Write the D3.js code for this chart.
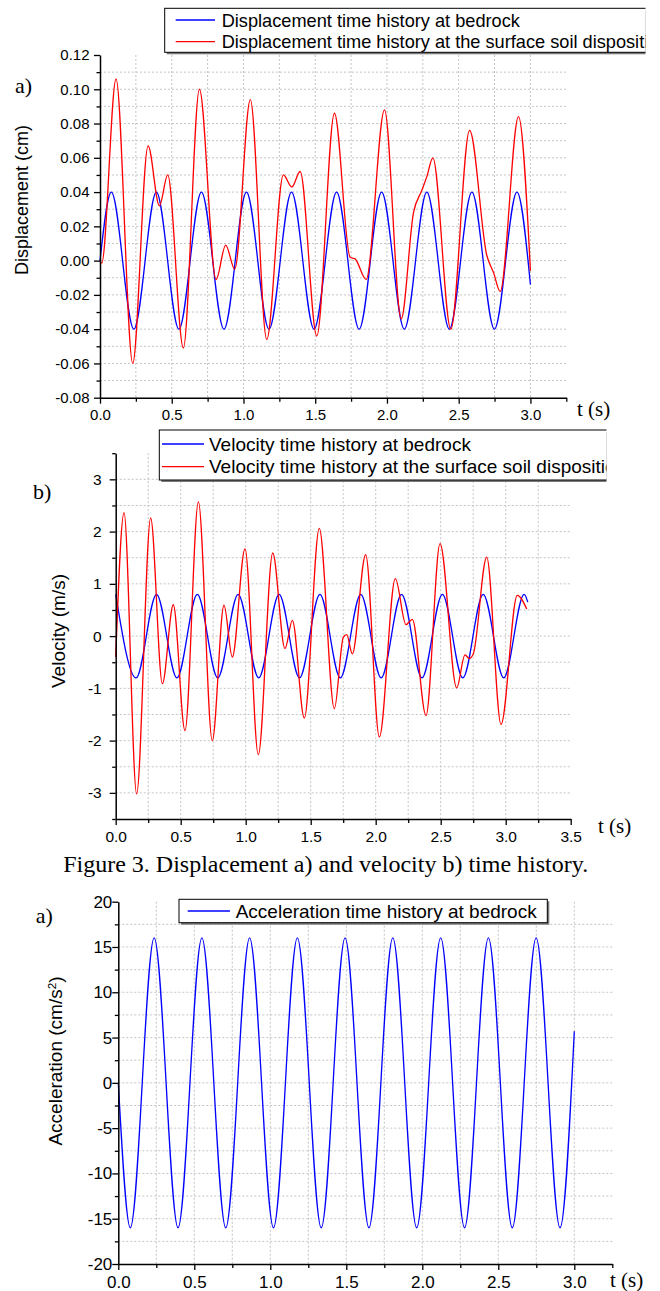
<!DOCTYPE html>
<html>
<head>
<meta charset="utf-8">
<script src="https://cdn.jsdelivr.net/npm/d3@7"></script>
<style>
  body { margin: 0; background: #fff; }
  svg text { font-family: Arial, "Liberation Sans", sans-serif; fill: #000; }
  svg text.serif { font-family: "Times New Roman", "Liberation Serif", serif; }
</style>
</head>
<body>
<div id="chart"></div>
<script>
// ---- data (t in s) ----
const dispBedrock = [
  [0, 0], [0.079, 0.04], [0.236, -0.04], [0.393, 0.04], [0.550, -0.04], [0.707, 0.04],
  [0.864, -0.04], [1.021, 0.04], [1.178, -0.04], [1.335, 0.04], [1.492, -0.04],
  [1.649, 0.04], [1.806, -0.04], [1.963, 0.04], [2.121, -0.04], [2.278, 0.04],
  [2.435, -0.04], [2.592, 0.04], [2.749, -0.04], [2.906, 0.04], [3.0, -0.014]
];
const dispSurface = [
  [0, 0], [0.012, -0.0015], [0.112, 0.106], [0.228, -0.060], [0.335, 0.067], [0.414, 0.032],
  [0.472, 0.050], [0.581, -0.051], [0.693, 0.100], [0.809, -0.011], [0.876, 0.009],
  [0.939, -0.005], [1.048, 0.094], [1.162, -0.046], [1.278, 0.050], [1.337, 0.043],
  [1.395, 0.052], [1.511, -0.044], [1.634, 0.086], [1.743, 0.002], [1.778, 0.001],
  [1.855, -0.011], [1.983, 0.088], [2.099, -0.034], [2.185, 0.028], [2.243, 0.041],
  [2.278, 0.049], [2.320, 0.060], [2.445, -0.040], [2.576, 0.076], [2.696, 0.003],
  [2.743, -0.007], [2.789, -0.018], [2.917, 0.084], [3.0, -0.006]
];
const velBedrock = [
  [0, 0.8], [0.157, -0.8], [0.314, 0.8], [0.471, -0.8], [0.628, 0.8], [0.785, -0.8],
  [0.942, 0.8], [1.100, -0.8], [1.257, 0.8], [1.414, -0.8], [1.571, 0.8], [1.728, -0.8],
  [1.885, 0.8], [2.042, -0.8], [2.199, 0.8], [2.356, -0.8], [2.513, 0.8], [2.670, -0.8],
  [2.827, 0.8], [2.985, -0.8], [3.142, 0.8], [3.17, 0.65]
];
const velSurface = [
  [0, -0.40], [0.064, 2.36], [0.161, -3.02], [0.269, 2.26], [0.359, -0.91], [0.443, 0.60],
  [0.533, -1.81], [0.636, 2.57], [0.743, -2.00], [0.833, 0.59], [0.897, -0.40],
  [0.995, 1.67], [1.097, -2.27], [1.208, 1.59], [1.302, -0.24], [1.359, 0.30],
  [1.451, -1.57], [1.566, 2.06], [1.682, -1.39], [1.751, -0.02], [1.777, 0.03],
  [1.820, -0.34], [1.923, 1.56], [2.028, -1.93], [2.151, 1.10], [2.233, 0.22],
  [2.282, 0.32], [2.387, -1.52], [2.495, 1.77], [2.623, -0.99], [2.687, -0.36],
  [2.720, -0.43], [2.751, -0.34], [2.854, 1.51], [2.964, -1.69], [3.089, 0.78], [3.162, 0.52]
];
const accBedrock = [
  [0, 0], [0.079, -16], [0.236, 16], [0.393, -16], [0.550, 16], [0.707, -16], [0.864, 16],
  [1.021, -16], [1.178, 16], [1.335, -16], [1.492, 16], [1.649, -16], [1.806, 16],
  [1.963, -16], [2.121, 16], [2.278, -16], [2.435, 16], [2.592, -16], [2.749, 16],
  [2.906, -16], [3.0, 5.7]
];

const xTicksA = [0, 0.5, 1.0, 1.5, 2.0, 2.5, 3.0];
const xTicksB = [0, 0.5, 1.0, 1.5, 2.0, 2.5, 3.0, 3.5];
const yTicksDisp = [-0.08, -0.06, -0.04, -0.02, 0, 0.02, 0.04, 0.06, 0.08, 0.10, 0.12];
const yTicksVel = [-3, -2, -1, 0, 1, 2, 3];
const yTicksAcc = [-20, -15, -10, -5, 0, 5, 10, 15, 20];

const legendDisp = ["Displacement time history at bedrock", "Displacement time history at the surface soil disposition"];
const legendVel = ["Velocity time history at bedrock", "Velocity time history at the surface soil disposition"];
const legendAcc = ["Acceleration time history at bedrock"];
const caption = "Figure 3. Displacement a) and velocity b) time history.";

const BLUE = "#0000ff", RED = "#ff0000";

const svg = d3.select("#chart").append("svg")
  .attr("width", 660).attr("height", 1291);

const hy = f => v => f(v).replace("\u2212", "-");

// minor ticks halfway between majors, plus one past the last if inside domain
function withMinors(major, domain) {
  const step = major[1] - major[0];
  const out = [];
  for (let i = 0; i < major.length; i++) {
    const m = +(major[i] - step / 2).toFixed(6);
    if (m >= domain[0] - 1e-9) out.push(m);
  }
  const last = +(major[major.length - 1] + step / 2).toFixed(6);
  if (last <= domain[1] + 1e-9) out.push(last);
  return out;
}

function drawPanel(p) {
  const x = d3.scaleLinear().domain(p.xDomain).range([p.left, p.right]);
  const y = d3.scaleLinear().domain(p.yDomain).range([p.bottom, p.top]);
  const xMinor = withMinors(p.xTicks, p.xDomain);
  const yMinor = withMinors(p.yTicks, p.yDomain);
  const eps = 1e-9;

  const g = svg.append("g");

  // dotted grid
  const gx = p.xTicks.concat(xMinor).filter(v => v > p.xDomain[0] + eps && v < p.xDomain[1] - eps);
  const gy = p.yTicks.concat(yMinor).filter(v => v > p.yDomain[0] + eps && v < p.yDomain[1] - eps);
  g.append("g").selectAll("line").data(gx).join("line")
    .attr("x1", d => x(d)).attr("x2", d => x(d))
    .attr("y1", p.top).attr("y2", p.bottom)
    .attr("stroke", "#c4c4c4").attr("stroke-width", 1).attr("stroke-dasharray", "2,2");
  g.append("g").selectAll("line").data(gy).join("line")
    .attr("x1", p.left).attr("x2", p.right)
    .attr("y1", d => y(d)).attr("y2", d => y(d))
    .attr("stroke", "#c4c4c4").attr("stroke-width", 1).attr("stroke-dasharray", "2,2");

  // curves
  const line = d3.line().x(d => x(d[0])).y(d => y(d[1])).curve(d3.curveMonotoneX);
  p.series.forEach(s => {
    g.append("path").datum(s.data)
      .attr("fill", "none").attr("stroke", s.color).attr("stroke-width", 1.3)
      .attr("d", line);
  });

  // minor ticks
  g.append("g").attr("transform", `translate(0,${p.bottom})`)
    .call(d3.axisBottom(x).tickValues(xMinor).tickSize(4).tickFormat(""))
    .call(a => a.select(".domain").remove())
    .selectAll("line").attr("stroke-width", 1.3);
  g.append("g").attr("transform", `translate(${p.left},0)`)
    .call(d3.axisLeft(y).tickValues(yMinor).tickSize(3.5).tickFormat(""))
    .call(a => a.select(".domain").remove())
    .selectAll("line").attr("stroke-width", 1.3);

  // major axes
  const ax = g.append("g").attr("transform", `translate(0,${p.bottom})`)
    .call(d3.axisBottom(x).tickValues(p.xTicks).tickSizeInner(6).tickSizeOuter(0)
      .tickPadding(p.xPad).tickFormat(hy(d3.format(".1f"))));
  const ay = g.append("g").attr("transform", `translate(${p.left},0)`)
    .call(d3.axisLeft(y).tickValues(p.yTicks).tickSizeInner(6).tickSizeOuter(0)
      .tickPadding(p.yPad).tickFormat(hy(p.yFmt)));
  [ax, ay].forEach(a => {
    a.select(".domain").attr("stroke-width", 1.5);
    a.selectAll(".tick line").attr("stroke-width", 1.3);
    a.selectAll("text").style("font-size", p.tickFont + "px")
      .style("font-family", "Arial, 'Liberation Sans', sans-serif");
  });

  // axis title
  const yl = g.append("text")
    .attr("transform", `translate(${p.yLabel.x},${p.yLabel.y}) rotate(-90)`)
    .attr("text-anchor", "middle").attr("dy", "0.35em")
    .style("font-size", p.yLabel.size + "px");
  yl.append("tspan").text(p.yLabel.text);
  if (p.yLabel.sup) {
    yl.append("tspan").attr("dy", "-0.45em").style("font-size", "0.62em").text(p.yLabel.sup);
    yl.append("tspan").attr("dy", "0.28em").text(p.yLabel.after);
  }

  g.append("text").attr("class", "serif")
    .attr("x", p.tLabel.x).attr("y", p.tLabel.y)
    .style("font-size", "21px").text("t (s)");
  g.append("text").attr("class", "serif")
    .attr("x", p.tag.x).attr("y", p.tag.y)
    .style("font-size", "22px").text(p.tag.text);
}

function drawLegend(L) {
  const id = "clip" + L.id;
  svg.append("clipPath").attr("id", id).append("rect")
    .attr("x", 0).attr("y", L.y - 5).attr("width", L.clipRight).attr("height", L.h + 12);
  const g = svg.append("g").attr("clip-path", `url(#${id})`);
  g.append("rect").attr("x", L.x + 2).attr("y", L.y + 2).attr("width", L.w).attr("height", L.h)
    .attr("fill", "#7a7a7a");
  g.append("rect").attr("x", L.x).attr("y", L.y).attr("width", L.w).attr("height", L.h)
    .attr("fill", "#fff").attr("stroke", "#000").attr("stroke-width", 1);
  L.labels.forEach((lab, i) => {
    g.append("line").attr("x1", L.lx1).attr("x2", L.lx2)
      .attr("y1", L.rows[i].ly).attr("y2", L.rows[i].ly)
      .attr("stroke", L.colors[i]).attr("stroke-width", 1.3);
    g.append("text").attr("x", L.tx).attr("y", L.rows[i].ty)
      .style("font-size", L.font + "px").text(lab);
  });
}

// a) displacement
drawPanel({
  left: 100, right: 566.3, top: 55, bottom: 397.7,
  xDomain: [0, 3.25], yDomain: [-0.08, 0.12],
  xTicks: xTicksA, yTicks: yTicksDisp, yFmt: d3.format(".2f"),
  xPad: 6, yPad: 4.5, tickFont: 15,
  series: [{ data: dispBedrock, color: BLUE }, { data: dispSurface, color: RED }],
  yLabel: { text: "Displacement (cm)", x: 22, y: 200, size: 18 },
  tLabel: { x: 577, y: 416 }, tag: { text: "a)", x: 15, y: 93 }
});
drawLegend({
  id: "d", x: 164.7, y: 8.3, w: 600, h: 44, clipRight: 645.5,
  lx1: 175.7, lx2: 215, tx: 221.7, font: 18.2,
  rows: [{ ly: 20, ty: 26.7 }, { ly: 41.7, ty: 48.3 }],
  labels: legendDisp, colors: [BLUE, RED]
});

// b) velocity
drawPanel({
  left: 115.7, right: 570.7, top: 453.2, bottom: 819,
  xDomain: [0, 3.5], yDomain: [-3.5, 3.5],
  xTicks: xTicksB, yTicks: yTicksVel, yFmt: d3.format("d"),
  xPad: 6, yPad: 8, tickFont: 15.5,
  series: [{ data: velBedrock, color: BLUE }, { data: velSurface, color: RED }],
  yLabel: { text: "Velocity (m/s)", x: 58, y: 631, size: 19 },
  tLabel: { x: 598, y: 833 }, tag: { text: "b)", x: 33, y: 499 }
});
drawLegend({
  id: "v", x: 159.3, y: 430, w: 600, h: 50, clipRight: 606.5,
  lx1: 162, lx2: 204, tx: 209, font: 19,
  rows: [{ ly: 444, ty: 450.7 }, { ly: 466.7, ty: 473.3 }],
  labels: legendVel, colors: [BLUE, RED]
});

svg.append("text").attr("class", "serif")
  .attr("x", 325.7).attr("y", 872).attr("text-anchor", "middle")
  .style("font-size", "24px").text(caption);

// a) acceleration
drawPanel({
  left: 118.3, right: 612.3, top: 901.7, bottom: 1264,
  xDomain: [0, 3.25], yDomain: [-20, 20],
  xTicks: xTicksA, yTicks: yTicksAcc, yFmt: d3.format("d"),
  xPad: 6, yPad: 0, tickFont: 17,
  series: [{ data: accBedrock, color: BLUE }],
  yLabel: { text: "Acceleration (cm/s", sup: "2", after: ")", x: 55, y: 1061, size: 19 },
  tLabel: { x: 610, y: 1287 }, tag: { text: "a)", x: 35.7, y: 922.7 }
});
drawLegend({
  id: "a", x: 179, y: 899.3, w: 368.3, h: 23.4, clipRight: 660,
  lx1: 187.7, lx2: 230, tx: 235.7, font: 19,
  rows: [{ ly: 911, ty: 918.3 }],
  labels: legendAcc, colors: [BLUE]
});
</script>
</body>
</html>
